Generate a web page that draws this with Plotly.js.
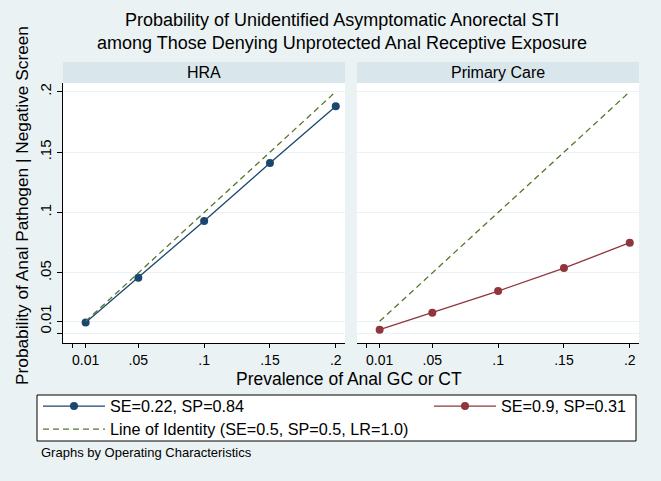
<!DOCTYPE html>
<html>
<head>
<meta charset="utf-8">
<script src="https://cdn.plot.ly/plotly-3.0.1.min.js"></script>
<style>
  body { margin: 0; background: #eaf2f3; }
  #chart { width: 661px; height: 481px; }
</style>
</head>
<body>
<div id="chart"></div>
<script>
// prevalence values on the x axis
var prevalence = [0.01, 0.05, 0.1, 0.15, 0.2];
// probability of pathogen given a negative screen
var hraProb = [0.009, 0.046, 0.093, 0.141, 0.188];
var primaryProb = [0.003, 0.017, 0.035, 0.054, 0.075];
// line of identity
var identityX = [0.01, 0.2];
var identityY = [0.01, 0.2];

var panelNames = ['HRA', 'Primary Care'];
var tickVals = [0, 0.01, 0.05, 0.1, 0.15, 0.2];
var tickText = ['', '0.01', '.05', '.1', '.15', '.2'];

var navy = '#1a476f';
var maroon = '#90353b';
var green = '#55752f';
var FONT = 'Liberation Sans, Arial, sans-serif';

var W = 661, H = 481;
function px(x) { return x / W; }
function py(y) { return 1 - y / H; }

var hraTrace = {
  x: prevalence, y: hraProb, xaxis: 'x', yaxis: 'y',
  mode: 'lines+markers', name: 'SE=0.22, SP=0.84',
  line: { color: navy, width: 1.3 }, marker: { color: navy, size: 8 },
  legend: 'legend'
};
var idLeft = {
  x: identityX, y: identityY, xaxis: 'x', yaxis: 'y',
  mode: 'lines', name: 'Line of Identity (SE=0.5, SP=0.5, LR=1.0)',
  line: { color: green, width: 1.3, dash: '6px,4px' },
  legend: 'legend3'
};
var primaryTrace = {
  x: prevalence, y: primaryProb, xaxis: 'x2', yaxis: 'y2',
  mode: 'lines+markers', name: 'SE=0.9, SP=0.31',
  line: { color: maroon, width: 1.3 }, marker: { color: maroon, size: 8 },
  legend: 'legend2'
};
var idRight = {
  x: identityX, y: identityY, xaxis: 'x2', yaxis: 'y2',
  mode: 'lines', showlegend: false,
  line: { color: green, width: 1.3, dash: '6px,4px' }
};

var data = [hraTrace, idLeft, primaryTrace, idRight];

var xRange = [-0.0072, 0.207];
var yRange = [-0.008, 0.2072];
var plotTop = 83, plotBottom = 343;

function xAxis(domain) {
  return {
    domain: domain, range: xRange, fixedrange: true,
    tickmode: 'array', tickvals: tickVals, ticktext: tickText,
    ticks: 'outside', ticklen: 4, tickcolor: '#000',
    tickfont: { family: FONT, size: 14, color: '#000' },
    showline: true, linecolor: '#000', linewidth: 1,
    showgrid: false, zeroline: false
  };
}
function yAxis(anchor, showLabels) {
  return {
    domain: [py(plotBottom), py(plotTop)], range: yRange, anchor: anchor,
    tickmode: 'array', tickvals: tickVals, ticktext: tickText,
    showticklabels: showLabels, tickangle: -90,
    ticks: showLabels ? 'outside' : '', ticklen: 5, tickcolor: '#000',
    tickfont: { family: FONT, size: 15, color: '#000' },
    showline: showLabels, linecolor: '#000', linewidth: 1,
    showgrid: true, gridcolor: '#eaf2f3', gridwidth: 1, zeroline: false
  };
}

var leftDom = [px(63), px(345)];
var rightDom = [px(357), px(639)];

var shapes = [];
var annotations = [];
[leftDom, rightDom].forEach(function (d, i) {
  shapes.push({
    type: 'rect', xref: 'paper', yref: 'paper', layer: 'below',
    x0: d[0], x1: d[1], y0: py(plotTop), y1: py(62),
    fillcolor: '#d9e6eb', line: { width: 0 }
  });
  annotations.push({
    xref: 'paper', yref: 'paper', x: (d[0] + d[1]) / 2, y: py(72.5),
    text: panelNames[i], showarrow: false, xanchor: 'center', yanchor: 'middle',
    font: { family: FONT, size: 16, color: '#000' }
  });
});

// legend box
shapes.push({
  type: 'rect', xref: 'paper', yref: 'paper', layer: 'below',
  x0: px(37), x1: px(636), y0: py(441), y1: py(395),
  fillcolor: '#fff', line: { color: '#000', width: 1 }
});

annotations.push(
  { xref: 'paper', yref: 'paper', x: px(342), y: py(20), showarrow: false,
    text: 'Probability of Unidentified Asymptomatic Anorectal STI',
    font: { family: FONT, size: 18, color: '#000' }, yanchor: 'middle' },
  { xref: 'paper', yref: 'paper', x: px(342), y: py(43), showarrow: false,
    text: 'among Those Denying Unprotected Anal Receptive Exposure',
    font: { family: FONT, size: 18, color: '#000' }, yanchor: 'middle' },
  { xref: 'paper', yref: 'paper', x: px(349), y: py(379), showarrow: false,
    text: 'Prevalence of Anal GC or CT',
    font: { family: FONT, size: 17.5, color: '#000' }, yanchor: 'middle' },
  { xref: 'paper', yref: 'paper', x: px(22), y: py(206), showarrow: false,
    text: 'Probability of Anal Pathogen | Negative Screen', textangle: -90,
    font: { family: FONT, size: 17.3, color: '#000' }, xanchor: 'center', yanchor: 'middle' },
  { xref: 'paper', yref: 'paper', x: px(39), y: py(452), showarrow: false,
    text: 'Graphs by Operating Characteristics', xanchor: 'left',
    font: { family: FONT, size: 13, color: '#000' }, yanchor: 'middle' }
);

var legendFont = { family: FONT, size: 16.2, color: '#000' };
function legendAt(x, yTop) {
  return {
    x: px(x), y: py(yTop), xanchor: 'left', yanchor: 'top',
    bgcolor: 'rgba(0,0,0,0)', font: legendFont, itemwidth: 62
  };
}

var layout = {
  width: W, height: H,
  margin: { l: 0, r: 0, t: 0, b: 0 },
  paper_bgcolor: '#eaf2f3', plot_bgcolor: '#fff',
  showlegend: true,
  xaxis: xAxis(leftDom),
  yaxis: yAxis('x', true),
  xaxis2: xAxis(rightDom),
  yaxis2: yAxis('x2', false),
  legend: legendAt(38, 389),
  legend2: legendAt(429, 389),
  legend3: legendAt(38, 412),
  shapes: shapes,
  annotations: annotations
};

Plotly.newPlot('chart', data, layout, { staticPlot: true });
</script>
</body>
</html>
